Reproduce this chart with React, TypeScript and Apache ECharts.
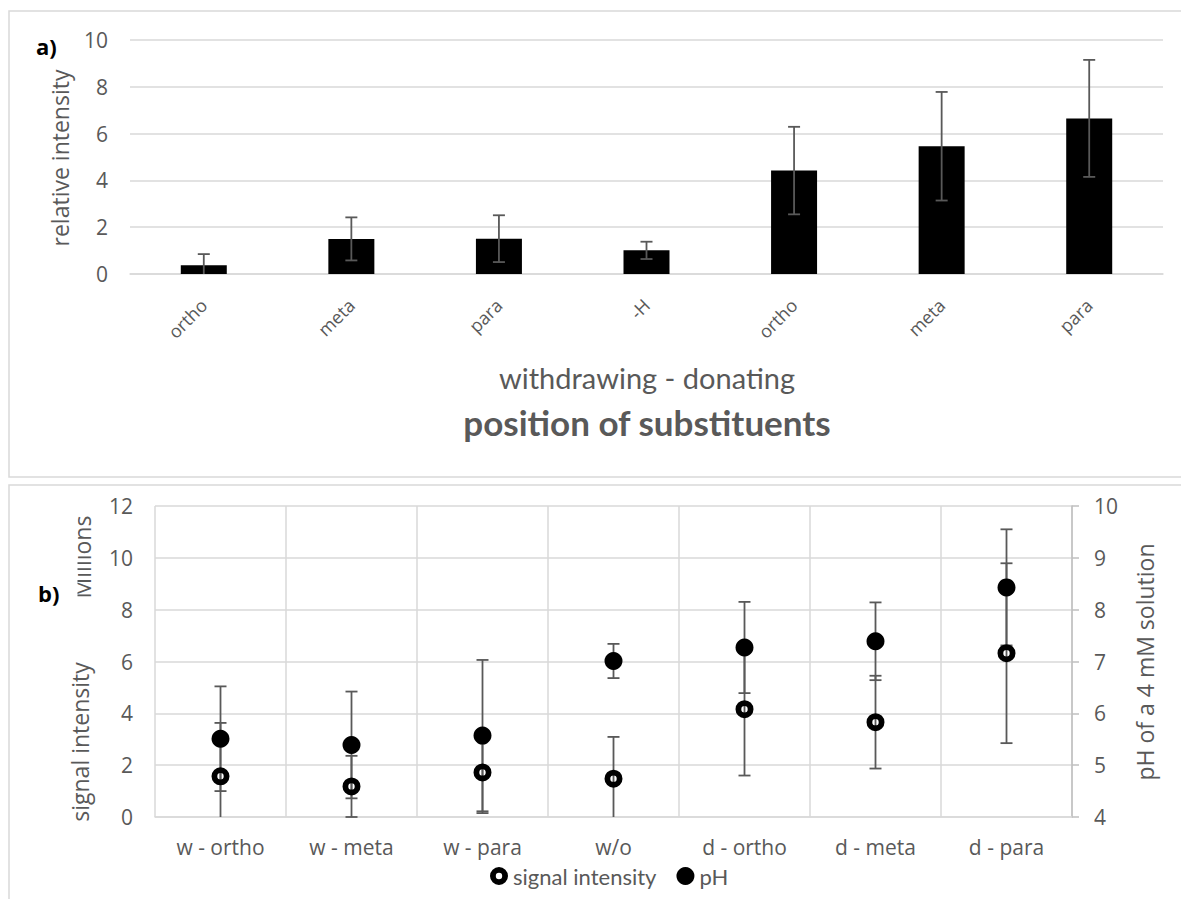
import React, { useEffect, useRef } from "react";
import * as echarts from "echarts";

// ---- Panel a) data ----
const topCategories = ["ortho", "meta", "para", "-H", "ortho", "meta", "para"];
const relIntensity = [0.37, 1.5, 1.51, 1.01, 4.42, 5.46, 6.65];
const relIntensityErr = [0.48, 0.92, 1.0, 0.37, 1.87, 2.32, 2.5];
const topTicks = { min: 0, max: 10, interval: 2 };

// ---- Panel b) data ----
const bottomCategories = ["w - ortho", "w - meta", "w - para", "w/o", "d - ortho", "d - meta", "d - para"];
const signalIntensity = [1.57, 1.18, 1.72, 1.48, 4.16, 3.66, 6.32];
const signalErr = [2.06, 1.18, 1.57, 1.61, 2.56, 1.79, 3.47];
const phValues = [5.51, 5.39, 5.57, 7.01, 7.27, 7.39, 8.43];
const phErr = [1.01, 1.03, 1.46, 0.33, 0.88, 0.75, 1.12];
const signalTicks = { min: 0, max: 12, interval: 2 };
const phTicks = { min: 4, max: 10, interval: 1 };

const GRAY = "#595959";
const GRID = "#d9d9d9";
const RING = "path://M0,-9A9,9 0 1,0 0,9A9,9 0 1,0 0,-9ZM0,-3.2A3.2,3.2 0 1,1 0,3.2A3.2,3.2 0 1,1 0,-3.2Z";

function errData(vals: number[], errs: number[], lo: number, hi: number) {
  return vals.map((v, i) => {
    const low = v - errs[i];
    const high = v + errs[i];
    return [i, Math.max(low, lo), Math.min(high, hi), low < lo ? 1 : 0, high > hi ? 1 : 0];
  });
}

function errRender(params: any, api: any) {
  const x = api.value(0);
  const top = api.coord([x, api.value(2)]);
  const bot = api.coord([x, api.value(1)]);
  const style = { stroke: GRAY, lineWidth: 1.8 };
  const half = 6;
  const children: any[] = [
    { type: "line", shape: { x1: top[0], y1: top[1], x2: bot[0], y2: bot[1] }, style },
  ];
  if (!api.value(4)) children.push({ type: "line", shape: { x1: top[0] - half, y1: top[1], x2: top[0] + half, y2: top[1] }, style });
  if (!api.value(3)) children.push({ type: "line", shape: { x1: bot[0] - half, y1: bot[1], x2: bot[0] + half, y2: bot[1] }, style });
  return { type: "group", children };
}

export default function App() {
  const ref = useRef<HTMLDivElement>(null);
  useEffect(() => {
    document.body.style.margin = "0";
    const chart = echarts.init(ref.current!, undefined, { renderer: "svg" });
    const axisLabelBase = { color: GRAY, fontFamily: "Open Sans", fontSize: 21 };
    chart.setOption({
      animation: false,
      backgroundColor: "#fff",
      grid: [
        { left: 130, right: 18, top: 40, height: 234 },
        { left: 155, right: 109, top: 506, height: 311 },
      ],
      xAxis: [
        {
          gridIndex: 0,
          type: "category",
          data: topCategories,
          axisLine: { lineStyle: { color: GRID, width: 1.5 } },
          axisTick: { show: false },
          axisLabel: { ...axisLabelBase, fontSize: 18, rotate: 45, margin: 28, interval: 0 },
        },
        {
          gridIndex: 1,
          type: "category",
          data: bottomCategories,
          axisLine: { lineStyle: { color: GRID, width: 1.5 } },
          axisTick: { show: false },
          splitLine: { show: true, interval: 0, lineStyle: { color: GRID, width: 1.5 } },
          axisLabel: { ...axisLabelBase, margin: 19, interval: 0 },
        },
      ],
      yAxis: [
        {
          gridIndex: 0,
          type: "value",
          ...topTicks,
          axisLine: { show: false },
          axisTick: { show: false },
          splitLine: { lineStyle: { color: GRID, width: 1.5 } },
          axisLabel: { ...axisLabelBase, margin: 22 },
        },
        {
          gridIndex: 1,
          type: "value",
          ...signalTicks,
          axisLine: { show: false },
          axisTick: { show: false },
          splitLine: { lineStyle: { color: GRID, width: 1.5 } },
          axisLabel: { ...axisLabelBase, margin: 22 },
        },
        {
          gridIndex: 1,
          type: "value",
          position: "right",
          ...phTicks,
          axisLine: { show: true, lineStyle: { color: "#bfbfbf", width: 1.5 } },
          axisTick: { show: true, length: 7, lineStyle: { color: "#bfbfbf", width: 1.5 } },
          splitLine: { show: false },
          axisLabel: { ...axisLabelBase, margin: 22 },
        },
      ],
      legend: {
        data: [
          { name: "signal intensity", icon: RING, itemStyle: { color: "#000", borderWidth: 0 } },
          { name: "pH", icon: "circle", itemStyle: { color: "#000", borderWidth: 0 } },
        ],
        left: 485,
        top: 860,
        itemWidth: 18,
        itemHeight: 18,
        itemGap: 20,
        textStyle: { color: GRAY, fontFamily: "Lato", fontSize: 22 },
      },
      series: [
        {
          type: "bar",
          xAxisIndex: 0,
          yAxisIndex: 0,
          data: relIntensity,
          barWidth: 46,
          itemStyle: { color: "#000" },
          z: 2,
        },
        {
          type: "custom",
          xAxisIndex: 0,
          yAxisIndex: 0,
          renderItem: errRender,
          data: errData(relIntensity, relIntensityErr, topTicks.min, topTicks.max),
          encode: { x: 0, y: [1, 2] },
          z: 3,
        },
        {
          type: "custom",
          xAxisIndex: 1,
          yAxisIndex: 1,
          renderItem: errRender,
          data: errData(signalIntensity, signalErr, signalTicks.min, signalTicks.max),
          encode: { x: 0, y: [1, 2] },
          z: 2,
        },
        {
          type: "custom",
          xAxisIndex: 1,
          yAxisIndex: 2,
          renderItem: errRender,
          data: errData(phValues, phErr, phTicks.min, phTicks.max),
          encode: { x: 0, y: [1, 2] },
          z: 2,
        },
        {
          name: "signal intensity",
          type: "scatter",
          xAxisIndex: 1,
          yAxisIndex: 1,
          data: signalIntensity,
          symbol: RING,
          symbolSize: 18,
          itemStyle: { color: "#000", opacity: 1 },
          z: 4,
        },
        {
          name: "pH",
          type: "scatter",
          xAxisIndex: 1,
          yAxisIndex: 2,
          data: phValues,
          symbol: "circle",
          symbolSize: 18,
          itemStyle: { color: "#000", opacity: 1 },
          z: 4,
        },
      ],
      graphic: [
        { type: "rect", silent: true, shape: { x: 9, y: 11, width: 1200, height: 466 }, style: { fill: "none", stroke: GRID, lineWidth: 1.5 } },
        { type: "rect", silent: true, shape: { x: 9, y: 485, width: 1200, height: 450 }, style: { fill: "none", stroke: GRID, lineWidth: 1.5 } },
        { type: "text", x: 36, y: 46, style: { text: "a)", font: "bold 22px 'Open Sans'", fill: "#000", verticalAlign: "middle" } },
        { type: "text", x: 60, y: 158, rotation: Math.PI / 2, style: { text: "relative intensity", font: "23px 'Open Sans'", fill: GRAY, align: "center", verticalAlign: "middle" } },
        { type: "text", x: 647, y: 377, style: { text: "withdrawing - donating", font: "29px Lato", fill: GRAY, align: "center", verticalAlign: "middle" } },
        { type: "text", x: 647, y: 422, style: { text: "position of substituents", font: "bold 35px Lato", fill: GRAY, align: "center", verticalAlign: "middle" } },
        { type: "text", x: 38, y: 593, style: { text: "b)", font: "bold 22px 'Open Sans'", fill: "#000", verticalAlign: "middle" } },
        { type: "text", x: 82, y: 557, z: 1, rotation: Math.PI / 2, style: { text: "Millions", font: "23px 'Open Sans'", fill: GRAY, align: "center", verticalAlign: "middle" } },
        { type: "rect", silent: true, z: 5, shape: { x: 60, y: 512, width: 17.5, height: 90 }, style: { fill: "#fff" } },
        { type: "text", x: 80, y: 742, rotation: Math.PI / 2, style: { text: "signal intensity", font: "23px 'Open Sans'", fill: GRAY, align: "center", verticalAlign: "middle" } },
        { type: "text", x: 1145, y: 662, rotation: Math.PI / 2, style: { text: "pH of a 4 mM solution", font: "23px 'Open Sans'", fill: GRAY, align: "center", verticalAlign: "middle" } },
      ],
    });
    return () => chart.dispose();
  }, []);
  return <div ref={ref} style={{ width: 1181, height: 899 }} />;
}
